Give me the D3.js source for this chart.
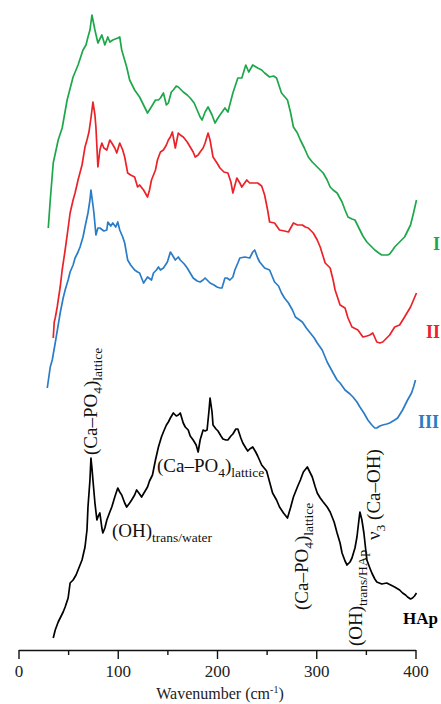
<!DOCTYPE html>
<html>
<head>
<meta charset="utf-8">
<script src="https://cdn.jsdelivr.net/npm/d3@7"></script>
<style>
  body { margin: 0; background: #fff; }
  svg text { font-family: "Liberation Serif", "Times New Roman", serif; }
</style>
</head>
<body>
<div class="chart"></div>
<script>
var width = 441, height = 704;

// [wavenumber (cm-1), intensity (a.u., offset for stacking)]
var seriesI = [
  [30,422],[32,450],[35,487],[40,510],[44,522],[49,550],[55,573],[60,585],[65,600],[68,605],
  [70,613],[72,620],[74,635],[77,620],[80,607],[84,615],[87,605],[90,613],[92,608],[95,610],
  [100,612],[102,613],[104,600],[109,583],[112,570],[117,560],[122,553],[130,537],[135,545],[138,550],
  [141,550],[143,552],[146,557],[149,545],[151,547],[154,558],[156,560],[159,564],[161,563],[164,560],
  [166,558],[170,555],[173,552],[177,547],[180,540],[183,533],[185,530],[188,538],[191,543],[195,535],
  [198,527],[201,532],[203,535],[208,542],[211,538],[216,557],[221,572],[225,572],[229,585],[232,578],
  [236,585],[241,582],[245,580],[248,577],[253,573],[257,574],[260,572],[265,557],[271,550],[274,538],
  [277,523],[281,517],[284,510],[288,502],[292,493],[296,488],[301,483],[304,480],[307,477],[311,470],
  [314,463],[317,460],[321,457],[326,448],[329,440],[332,433],[336,431],[339,430],[344,420],[347,414],
  [351,408],[355,404],[359,400],[363,397],[366,395],[369,395],[372,395],[374,396],[377,400],[379,403],
  [384,408],[389,413],[395,425],[398,437],[401,450]
];

var seriesII = [
  [35,312],[36,328],[37,332],[39,343],[42,363],[44,380],[47,400],[50,422],[52,437],[55,450],
  [57,457],[60,470],[64,485],[67,503],[69,510],[71,518],[73,532],[75,548],[77,535],[78,523],
  [80,483],[82,500],[84,507],[86,502],[89,500],[92,510],[94,507],[97,502],[99,497],[102,507],
  [105,500],[107,493],[110,477],[113,475],[117,473],[120,463],[122,465],[126,460],[130,453],[132,460],
  [134,470],[138,480],[140,490],[143,498],[146,500],[149,505],[151,510],[153,513],[155,518],[158,502],
  [161,517],[163,515],[166,513],[170,508],[173,503],[176,498],[178,493],[181,495],[183,498],[186,502],
  [188,507],[191,517],[193,510],[196,493],[200,487],[203,482],[207,478],[211,477],[214,468],[216,457],
  [220,472],[223,467],[225,463],[230,470],[233,467],[236,467],[241,467],[245,464],[248,455],[251,440],
  [253,428],[258,427],[263,420],[268,419],[272,418],[277,427],[281,425],[286,425],[289,423],[292,422],
  [297,417],[301,410],[304,403],[309,387],[314,382],[317,370],[319,360],[324,345],[329,342],[332,332],
  [336,323],[342,320],[347,313],[351,314],[354,315],[357,317],[361,308],[364,307],[367,308],[371,312],
  [374,315],[379,323],[384,325],[389,333],[395,343],[398,350],[401,357]
];

var seriesIII = [
  [29,262],[32,283],[34,290],[37,307],[40,325],[42,337],[45,352],[47,360],[50,370],[52,378],
  [55,385],[57,392],[60,398],[62,403],[65,413],[67,423],[70,437],[72,450],[73,460],[75,445],
  [76,437],[78,415],[80,422],[82,422],[86,419],[89,420],[90,428],[93,424],[95,427],[98,423],
  [100,428],[102,420],[105,413],[107,407],[110,390],[113,385],[117,380],[120,378],[122,377],[126,367],
  [128,370],[130,373],[134,370],[136,377],[139,380],[141,383],[143,380],[146,382],[150,388],[153,398],
  [155,395],[158,390],[161,393],[163,390],[167,386],[170,382],[173,377],[176,372],[180,369],[183,368],
  [186,370],[188,372],[191,369],[193,367],[197,365],[200,363],[203,362],[205,362],[208,372],[210,372],
  [213,370],[216,373],[218,380],[221,387],[223,392],[228,393],[233,392],[236,398],[238,400],[241,392],
  [243,388],[248,382],[253,380],[258,368],[262,364],[265,357],[268,352],[272,347],[276,340],[279,333],
  [286,328],[290,322],[294,317],[298,312],[301,307],[306,300],[311,288],[317,277],[321,270],[324,267],
  [329,260],[334,256],[337,253],[341,248],[344,243],[348,237],[352,230],[356,225],[359,222],[361,222],
  [364,224],[367,225],[371,226],[374,227],[379,230],[382,232],[387,240],[392,250],[396,257],[398,263],
  [400,270]
];

var seriesHAp = [
  [35,12],[37,20],[40,28],[42,32],[45,38],[47,43],[50,52],[52,67],[55,70],[58,75],
  [60,80],[62,85],[64,90],[67,103],[69,120],[70,143],[72,170],[73,192],[74,182],[75,170],
  [77,147],[79,130],[80,133],[82,137],[84,122],[85,117],[87,122],[89,130],[92,138],[94,143],
  [97,153],[100,162],[102,158],[104,155],[107,147],[109,143],[112,147],[114,150],[117,155],[119,160],
  [122,156],[124,153],[127,158],[130,163],[132,169],[135,175],[138,190],[141,203],[144,213],[146,218],
  [149,225],[151,228],[153,232],[156,237],[159,234],[161,235],[163,237],[166,227],[168,223],[171,220],
  [173,214],[176,210],[179,205],[181,198],[183,210],[186,220],[188,219],[190,220],[192,240],[193,252],
  [195,238],[196,225],[199,221],[201,219],[204,214],[206,211],[209,210],[211,210],[214,214],[216,216],
  [219,221],[221,221],[224,212],[226,207],[229,202],[231,199],[233,201],[236,203],[239,198],[241,194],
  [245,185],[250,179],[253,168],[256,157],[260,150],[263,143],[267,137],[271,132],[274,142],[277,153],
  [281,163],[284,170],[287,178],[291,183],[294,177],[296,173],[299,163],[301,157],[304,152],[307,148],
  [311,143],[314,138],[318,128],[321,117],[324,107],[326,97],[329,89],[331,85],[334,88],[336,92],
  [339,102],[341,113],[343,130],[344,138],[346,130],[348,117],[351,90],[354,82],[356,77],[359,71],
  [361,68],[366,66],[371,67],[375,65],[379,63],[384,60],[387,57],[390,55],[392,53],[395,51],
  [397,52],[399,54],[401,57]
];

var majorTicks = [0, 100, 200, 300, 400];
var minorTicks = [50, 150, 250, 350];
var seriesNames = ["I", "II", "III", "HAp"];
var seriesColors = ["#1ea64b", "#ec2229", "#2a7cc6", "#000000"];

var svg = d3.select(".chart")
  .append("svg")
  .attr("width", width)
  .attr("height", height);

var x = d3.scaleLinear().domain([0, 400]).range([18.5, 415.5]);
var y = d3.scaleLinear().domain([0, 640]).range([650, 10]);

var line = d3.line()
  .x(function(d) { return x(d[0]); })
  .y(function(d) { return y(d[1]); });

var allSeries = [seriesI, seriesII, seriesIII, seriesHAp];

svg.selectAll(".spec")
  .data(allSeries)
  .enter()
  .append("path")
  .attr("class", "spec")
  .attr("d", line)
  .attr("fill", "none")
  .attr("stroke", function(d, i) { return seriesColors[i]; })
  .attr("stroke-width", 1.7)
  .attr("stroke-linejoin", "round");

// x axis
var xAxis = d3.axisBottom(x)
  .tickValues(majorTicks)
  .tickSize(9)
  .tickSizeOuter(0)
  .tickPadding(6);

var gx = svg.append("g")
  .attr("transform", "translate(0,650)")
  .call(xAxis);
gx.select(".domain").attr("stroke", "#111").attr("stroke-width", 1.4);
gx.selectAll(".tick line").attr("stroke", "#111").attr("stroke-width", 1.4);
gx.selectAll(".tick text")
  .attr("font-family", "Liberation Serif, serif")
  .attr("font-size", 17)
  .attr("fill", "#222");

var gMinor = svg.append("g")
  .attr("transform", "translate(0,650)")
  .call(d3.axisBottom(x).tickValues(minorTicks).tickSize(5).tickFormat(""));
gMinor.select(".domain").remove();
gMinor.selectAll(".tick line").attr("stroke", "#111").attr("stroke-width", 1.4);

var title = svg.append("text")
  .attr("x", 220)
  .attr("y", 699)
  .attr("text-anchor", "middle")
  .attr("font-size", 16)
  .attr("fill", "#222");
title.append("tspan").text("Wavenumber (cm");
title.append("tspan").attr("font-size", 10).attr("dy", -6).text("-1");
title.append("tspan").attr("dy", 6).text(")");

// series labels
var labelPos = [[440, 250], [440, 338], [439, 428]];
seriesNames.slice(0, 3).forEach(function(n, i) {
  svg.append("text")
    .attr("x", labelPos[i][0])
    .attr("y", labelPos[i][1])
    .attr("text-anchor", "end")
    .attr("font-size", 18)
    .attr("font-weight", "bold")
    .attr("fill", seriesColors[i])
    .text(n);
});
svg.append("text")
  .attr("x", 403)
  .attr("y", 624)
  .attr("font-size", 17)
  .attr("font-weight", "bold")
  .attr("fill", "#000")
  .text("HAp");

// band annotations: parts are [text, isSubscript]
var bands = [
  {x: 97, y: 455, rot: true, parts: [["(Ca–PO", 0], ["4", 1], [")", 0], ["lattice", 1]]},
  {x: 112, y: 537, rot: false, parts: [["(OH)", 0], ["trans/water", 1]]},
  {x: 157, y: 472, rot: false, parts: [["(Ca–PO", 0], ["4", 1], [")", 0], ["lattice", 1]]},
  {x: 308, y: 610, rot: true, parts: [["(Ca–PO", 0], ["4", 1], [")", 0], ["lattice", 1]]},
  {x: 362, y: 646, rot: true, parts: [["(OH)", 0], ["trans/HAp", 1]]},
  {x: 380, y: 540, rot: true, parts: [["ν", 0], ["3", 1], [" (Ca–OH)", 0]]}
];

bands.forEach(function(b) {
  var t = svg.append("text")
    .attr("transform", "translate(" + b.x + "," + b.y + ")" + (b.rot ? " rotate(-90)" : ""))
    .attr("font-size", 19)
    .attr("fill", "#111");
  var sub = 0;
  b.parts.forEach(function(p) {
    var shift = (p[1] ? 5 : 0) - sub;
    sub = p[1] ? 5 : 0;
    t.append("tspan")
      .attr("dy", shift)
      .attr("font-size", p[1] ? 13.5 : 19)
      .text(p[0]);
  });
});
</script>
</body>
</html>
